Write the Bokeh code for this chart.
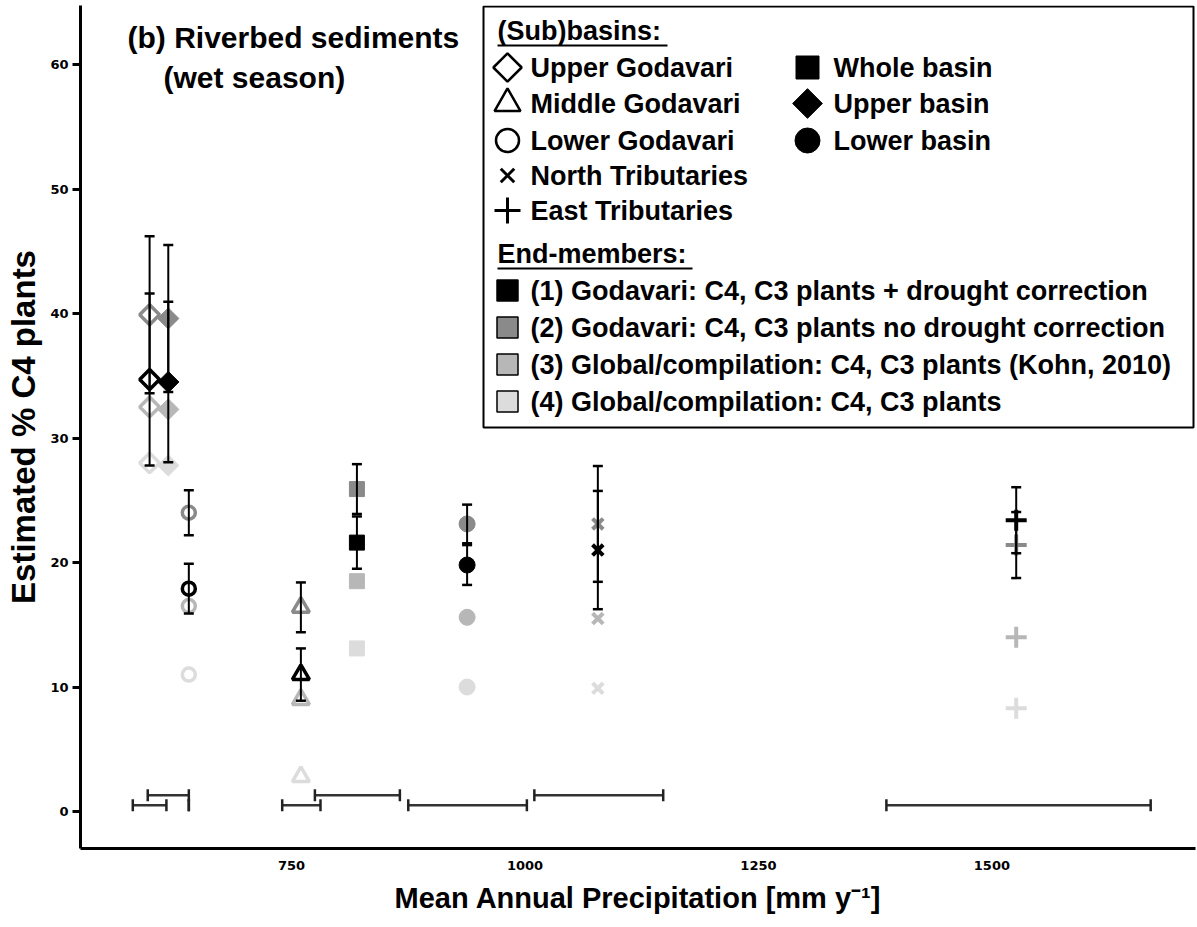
import numpy as np
from bokeh.plotting import figure
from bokeh.models import ColumnDataSource, Range1d, FixedTicker, Whisker, TeeHead
from bokeh.core.properties import value
from bokeh.embed import file_html
from bokeh.resources import INLINE

# ---------------- data ----------------
subbasins = ["Upper Godavari", "Upper basin", "Lower Godavari", "Middle Godavari",
             "Whole basin", "Lower basin", "North Tributaries", "East Tributaries"]
map_mm = [598, 618, 640, 760, 820, 938, 1078, 1526]          # mean annual precipitation
map_low = [580, 596, 640, 740, 775, 875, 1010, 1387]         # precipitation range
map_high = [616, 640, 640, 781, 866, 1002, 1148, 1670]
map_bar_level = [0.5, 1.3, 0.5, 0.5, 1.3, 0.5, 1.3, 0.5]

c4_em1 = [34.7, 34.5, 17.9, 11.0, 21.6, 19.8, 21.0, 23.4]
c4_em1_err = [6.9, 6.45, 2.0, 2.1, 2.1, 1.6, 4.75, 2.65]
c4_em2 = [39.9, 39.6, 24.0, 16.4, 25.9, 23.1, 23.1, 21.4]
c4_em2_err = [6.3, 5.9, 1.8, 2.0, 2.0, 1.55, 4.65, 2.65]
c4_em3 = [32.5, 32.3, 16.5, 9.0, 18.5, 15.6, 15.5, 14.0]
c4_em4 = [28.0, 27.8, 11.0, 2.8, 13.1, 10.0, 9.9, 8.3]

em_labels = ["(1) Godavari: C4, C3 plants + drought correction",
             "(2) Godavari: C4, C3 plants no drought correction",
             "(3) Global/compilation: C4, C3 plants (Kohn, 2010)",
             "(4) Global/compilation: C4, C3 plants"]
x_ticks = [750, 1000, 1250, 1500]
y_ticks = [0, 10, 20, 30, 40, 50, 60]

# ---------------- style ----------------
W, H = 1197, 927
LB, RB, TB, BB = 80, 2, 5, 79
FW, FH = W - LB - RB, H - TB - BB
em_colors = ["#000000", "#8a8a8a", "#b7b7b7", "#dcdcdc"]
FONT = "Liberation Sans"
NARROW = "Liberation Sans Narrow, Arial Narrow, Liberation Sans"

styles = {
    "Upper Godavari":   dict(marker="square", angle=np.pi / 4, filled=False, size=14),
    "Upper basin":      dict(marker="square", angle=np.pi / 4, filled=True, size=15),
    "Lower Godavari":   dict(marker="circle", angle=0, filled=False, size=13),
    "Middle Godavari":  dict(marker="triangle", angle=0, filled=False, size=17),
    "Whole basin":      dict(marker="square", angle=0, filled=True, size=15),
    "Lower basin":      dict(marker="circle", angle=0, filled=True, size=16),
    "North Tributaries": dict(marker="x", angle=0, filled=False, size=15),
    "East Tributaries": dict(marker="cross", angle=0, filled=False, size=21),
}

p = figure(width=W, height=H, x_range=Range1d(524, 1718), y_range=Range1d(-2.97, 64.74),
           min_border_left=LB, min_border_right=RB, min_border_top=TB, min_border_bottom=BB,
           output_backend="svg", toolbar_location=None, title=None)
p.extra_x_ranges = {"px": Range1d(0, FW)}
p.extra_y_ranges = {"py": Range1d(FH, 0)}

p.grid.visible = False
p.outline_line_color = None
p.background_fill_color = "white"

for ax in (p.xaxis[0], p.yaxis[0]):
    ax.axis_line_width = 3
    ax.axis_line_color = "black"
    ax.minor_tick_line_color = None
    ax.major_label_text_font = "DejaVu Sans"
    ax.major_label_text_font_style = "bold"
    ax.major_label_text_font_size = "13px"
    ax.major_label_text_color = "black"
    ax.axis_label_text_font = NARROW
    ax.axis_label_text_font_style = "bold"
    ax.axis_label_text_color = "black"

p.xaxis.ticker = FixedTicker(ticks=x_ticks)
p.yaxis.ticker = FixedTicker(ticks=y_ticks)
p.xaxis.major_tick_out = 0
p.xaxis.major_tick_in = 0
p.xaxis.major_label_standoff = 12
p.yaxis.major_tick_out = 8
p.yaxis.major_tick_in = 0
p.yaxis.major_tick_line_width = 3
p.yaxis.major_label_standoff = 4
p.xaxis.axis_label = "Mean Annual Precipitation [mm y\u207b\u00b9]"
p.yaxis.axis_label = "Estimated % C4 plants"
p.xaxis.axis_label_text_font_size = "29px"
p.yaxis.axis_label_text_font_size = "33px"
p.xaxis.axis_label_standoff = 9
p.yaxis.axis_label_standoff = 5

# ---------------- markers ----------------
series = [c4_em4, c4_em3, c4_em2, c4_em1]
colors = [em_colors[3], em_colors[2], em_colors[1], em_colors[0]]
for vals, col in zip(series, colors):
    for i, name in enumerate(subbasins):
        st = styles[name]
        src = ColumnDataSource(dict(x=[map_mm[i]], y=[vals[i]]))
        if st["filled"]:
            p.scatter("x", "y", source=src, marker=st["marker"], angle=st["angle"], size=st["size"],
                      fill_color=col, line_color=col, line_width=1)
        else:
            lw = 4 if st["marker"] in ("x", "cross") else 3.5
            p.scatter("x", "y", source=src, marker=st["marker"], angle=st["angle"], size=st["size"],
                      fill_alpha=0, line_color=col, line_width=lw)

# ---------------- vertical error bars ----------------
for vals, errs in ((c4_em2, c4_em2_err), (c4_em1, c4_em1_err)):
    src = ColumnDataSource(dict(
        x=map_mm,
        lo=[v - e for v, e in zip(vals, errs)],
        hi=[v + e for v, e in zip(vals, errs)]))
    p.add_layout(Whisker(source=src, base="x", lower="lo", upper="hi", dimension="height",
                         line_color="black", line_width=2, level="annotation",
                         upper_head=TeeHead(size=10, line_width=2.5, line_color="black"),
                         lower_head=TeeHead(size=10, line_width=2.5, line_color="black")))

# ---------------- horizontal precipitation ranges ----------------
hsrc = ColumnDataSource(dict(y=map_bar_level, lo=map_low, hi=map_high))
p.add_layout(Whisker(source=hsrc, base="y", lower="lo", upper="hi", dimension="width",
                     line_color="#333333", line_width=2.5, level="annotation",
                     upper_head=TeeHead(size=12, line_width=2.5, line_color="#222222"),
                     lower_head=TeeHead(size=12, line_width=2.5, line_color="#222222")))

# ---------------- panel title (pixel space) ----------------
def fx(X):
    return X - LB

def fy(Y):
    return Y - TB

PX = dict(x_range_name="px", y_range_name="py")
p.text(x=[fx(127), fx(163)], y=[fy(37), fy(77)],
       text=["(b) Riverbed sediments", "(wet season)"],
       text_font=value(FONT), text_font_style="bold", text_font_size="30px",
       text_baseline="middle", text_align="left", text_color="black", **PX)

# ---------------- legend box ----------------
p.quad(left=[fx(483)], right=[fx(1193)], top=[fy(6)], bottom=[fy(427)],
       fill_color="white", line_color="black", line_width=2, **PX)

LFS = "27px"
header_y = [30, 253]
headers = ["(Sub)basins:", "End-members:"]
header_len = [170, 195]
p.text(x=[fx(497)] * 2, y=[fy(v) for v in header_y], text=headers,
       text_font=value(FONT), text_font_style="bold", text_font_size=LFS,
       text_baseline="middle", text_align="left", text_color="black", **PX)
p.segment(x0=[fx(497)] * 2, x1=[fx(497 + l) for l in header_len],
          y0=[fy(v + 15) for v in header_y], y1=[fy(v + 15) for v in header_y],
          line_color="black", line_width=2, **PX)

col1 = ["Upper Godavari", "Middle Godavari", "Lower Godavari", "North Tributaries", "East Tributaries"]
col1_y = [67, 103, 140, 175, 210]
col2 = ["Whole basin", "Upper basin", "Lower basin"]
col2_y = [67, 103, 140]
leg_size = {"Upper Godavari": 20, "Middle Godavari": 26, "Lower Godavari": 23,
            "North Tributaries": 19, "East Tributaries": 26,
            "Whole basin": 23, "Upper basin": 21, "Lower basin": 25}
for names, ys, mx, tx in ((col1, col1_y, 507, 530), (col2, col2_y, 807, 833)):
    for name, yy in zip(names, ys):
        st = styles[name]
        if st["filled"]:
            p.scatter(x=[fx(mx)], y=[fy(yy)], marker=st["marker"], angle=st["angle"],
                      size=leg_size[name], fill_color="black", line_color="black", **PX)
        else:
            lw = 3 if st["marker"] in ("x", "cross") else 2.5
            p.scatter(x=[fx(mx)], y=[fy(yy)], marker=st["marker"], angle=st["angle"],
                      size=leg_size[name], fill_alpha=0, line_color="black", line_width=lw, **PX)
    p.text(x=[fx(tx)] * len(names), y=[fy(v) for v in ys], text=names,
           text_font=value(FONT), text_font_style="bold", text_font_size=LFS,
           text_baseline="middle", text_align="left", text_color="black", **PX)

em_y = [290, 327, 364, 401]
p.scatter(x=[fx(507)] * 4, y=[fy(v) for v in em_y], marker="square", size=21,
          fill_color=em_colors, line_color="black", line_width=1.5, **PX)
p.text(x=[fx(530)] * 4, y=[fy(v) for v in em_y], text=em_labels,
       text_font=value(FONT), text_font_style="bold", text_font_size=LFS,
       text_baseline="middle", text_align="left", text_color="black", **PX)

open("out.html", "w").write(file_html(p, INLINE))
